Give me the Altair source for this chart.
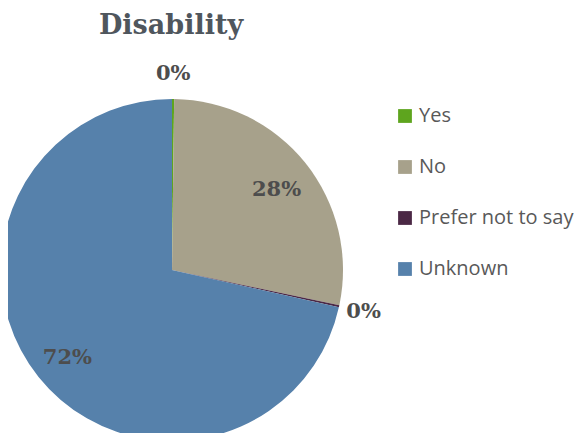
import altair as alt
import pandas as pd

categories = ["Yes", "No", "Prefer not to say", "Unknown"]
values = [0.2, 28.1, 0.2, 71.5]
labels = ["0%", "28%", "0%", "72%"]
colors = ["#5ea51e", "#a7a18b", "#4b2845", "#5681ab"]

df = pd.DataFrame({"category": categories, "value": values, "label": labels,
                   "idx": list(range(len(categories)))})

cx, cy = 164, 222
base = alt.Chart(df).encode(
    theta=alt.Theta("value:Q", stack=True),
    order=alt.Order("idx:Q"),
)

pie = base.mark_arc(outerRadius=171).encode(
    x=alt.value(cx), y=alt.value(cy),
    color=alt.Color("category:N", sort=categories,
                    scale=alt.Scale(domain=categories, range=colors),
                    legend=alt.Legend(title=None, orient="none", legendX=387, legendY=58,
                                      symbolType="square", symbolSize=190,
                                      symbolStrokeWidth=0,
                                      labelFont="Open Sans", labelFontSize=20,
                                      labelColor="#595959", rowPadding=31,
                                      labelOffset=4)),
)

tstyle = dict(font="DejaVu Serif", fontWeight="bold", fontSize=21, color="#4d4d4d")
text_in = base.transform_calculate(
    lab="datum.value >= 1 ? datum.label : ''"
).mark_text(radius=134, dy=4, **tstyle).encode(
    x=alt.value(cx), y=alt.value(cy), text="lab:N")
text_out = base.transform_calculate(
    lab="datum.value < 1 ? datum.label : ''"
).mark_text(radius=196, **tstyle).encode(
    x=alt.value(cx), y=alt.value(cy), text="lab:N")

chart = alt.layer(pie, text_in, text_out).properties(
    width=568, height=385,
    padding={"top": 40, "left": 0, "right": 0, "bottom": 0},
    autosize=alt.AutoSizeParams(type="none"),
    title=alt.Title("Disability", font="DejaVu Serif", fontSize=27, fontWeight="bold",
                    color="#4f565d", anchor="middle", dx=-121, offset=8),
).configure_view(stroke=None)

chart.save("out.html", embed_options={"renderer": "svg", "actions": False})
